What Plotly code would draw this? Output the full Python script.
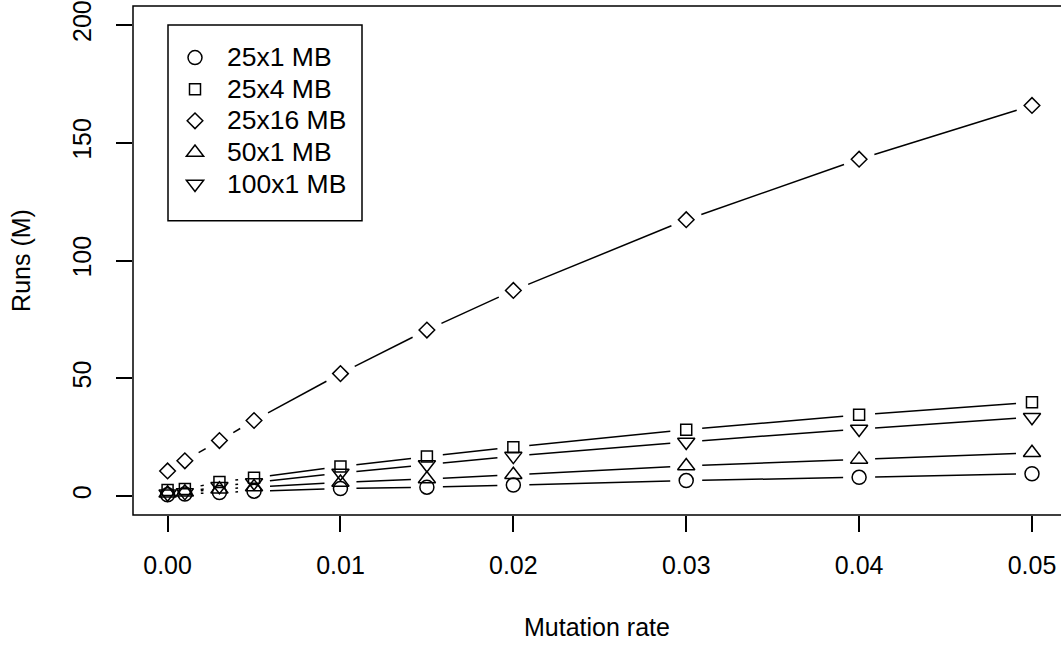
import math
import plotly.graph_objects as go

# ---- data ----
mutation_rate = [0, 0.001, 0.003, 0.005, 0.01, 0.015, 0.02, 0.03, 0.04, 0.05]
runs_25x1 = [0.6, 0.9, 1.5, 2.1, 3.2, 3.8, 4.7, 6.6, 8.0, 9.5]
runs_25x4 = [2.6, 3.0, 6.0, 7.8, 12.6, 16.8, 20.8, 28.2, 34.5, 39.8]
runs_25x16 = [10.7, 15.0, 23.6, 32.1, 52.0, 70.5, 87.3, 117.3, 143.0, 165.8]
runs_50x1 = [1.2, 1.7, 2.9, 3.9, 5.8, 7.3, 9.1, 12.8, 15.6, 18.4]
runs_100x1 = [1.0, 1.6, 4.2, 5.8, 9.8, 13.4, 17.0, 23.0, 28.5, 33.5]

series_names = ["25x1 MB", "25x4 MB", "25x16 MB", "50x1 MB", "100x1 MB"]
series_values = [runs_25x1, runs_25x4, runs_25x16, runs_50x1, runs_100x1]
symbols = ["circle-open", "square-open", "diamond-open", "triangle-up-open", "triangle-down-open"]
sizes = [14, 11, 12, 15, 15]

# ---- layout geometry ----
W, H = 1061, 645
ml, mr, mt, mb = 133, 0, 3, 130
xr = [-0.002, 0.051678]
yr = [-8, 208]
pw, ph = W - ml - mr, H - mt - mb
GAP = 16.0  # R type="b" gap around points, px

def to_px(x, y):
    return ((x - xr[0]) / (xr[1] - xr[0]) * pw, (yr[1] - y) / (yr[1] - yr[0]) * ph)

def to_data(px, py):
    return (xr[0] + px / pw * (xr[1] - xr[0]), yr[1] - py / ph * (yr[1] - yr[0]))

def gapped_segments(xs, ys):
    sx, sy = [], []
    for i in range(len(xs) - 1):
        p1 = to_px(xs[i], ys[i])
        p2 = to_px(xs[i + 1], ys[i + 1])
        dx, dy = p2[0] - p1[0], p2[1] - p1[1]
        d = math.hypot(dx, dy)
        if d <= 2 * GAP:
            continue
        ux, uy = dx / d, dy / d
        a = to_data(p1[0] + ux * GAP, p1[1] + uy * GAP)
        b = to_data(p2[0] - ux * GAP, p2[1] - uy * GAP)
        sx += [a[0], b[0], None]
        sy += [a[1], b[1], None]
    return sx, sy

FONT = "Liberation Sans, Arial, Helvetica, sans-serif"
fig = go.Figure()

for name, vals, sym, sz in zip(series_names, series_values, symbols, sizes):
    sx, sy = gapped_segments(mutation_rate, vals)
    fig.add_trace(go.Scatter(x=sx, y=sy, mode="lines", line=dict(color="black", width=1.5),
                             showlegend=False, hoverinfo="skip"))
    fig.add_trace(go.Scatter(x=mutation_rate, y=vals, mode="markers",
                             name=f"<span style='font-size:26.5px'>{name}</span>",
                             marker=dict(symbol=sym, size=sz, color="black",
                                         line=dict(color="black", width=1.5))))

axis_common = dict(showgrid=False, zeroline=False, showline=False, ticks="outside",
                   ticklen=16, tickwidth=1.5, tickcolor="black",
                   ticklabeloverflow="allow",
                   tickfont=dict(family=FONT, size=25, color="black"))

fig.update_layout(
    width=W, height=H,
    margin=dict(l=ml, r=mr, t=mt, b=mb, pad=0),
    paper_bgcolor="white", plot_bgcolor="white",
    xaxis=dict(range=xr, tickvals=[0, 0.01, 0.02, 0.03, 0.04, 0.05], tickformat=".2f",
               ticklabelstandoff=12,
               title=dict(text="Mutation rate", font=dict(family=FONT, size=25, color="black"),
                          standoff=40),
               **axis_common),
    yaxis=dict(range=yr, tickvals=[0, 50, 100, 150, 200], tickangle=-90,
               ticklabelstandoff=15,
               title=dict(text="Runs (M)", font=dict(family=FONT, size=25, color="black"),
                          standoff=30),
               **axis_common),
    legend=dict(x=(163 - ml) / pw, y=1 - (34 - mt) / ph, xanchor="left", yanchor="top",
                bgcolor="rgba(0,0,0,0)", borderwidth=0, itemwidth=54,
                font=dict(family=FONT, size=22, color="black"), tracegroupgap=0),
    shapes=[
        dict(type="rect", xref="paper", yref="paper", x0=0, x1=1.05, y0=0, y1=1,
             line=dict(color="black", width=1.5), layer="above"),
        dict(type="rect", xref="paper", yref="paper",
             x0=(168 - ml) / pw, x1=(362 - ml) / pw,
             y0=1 - (219 - mt) / ph, y1=1 - (22 - mt) / ph,
             line=dict(color="black", width=1.5), layer="above"),
    ],
)

fig.write_html("out.html")
